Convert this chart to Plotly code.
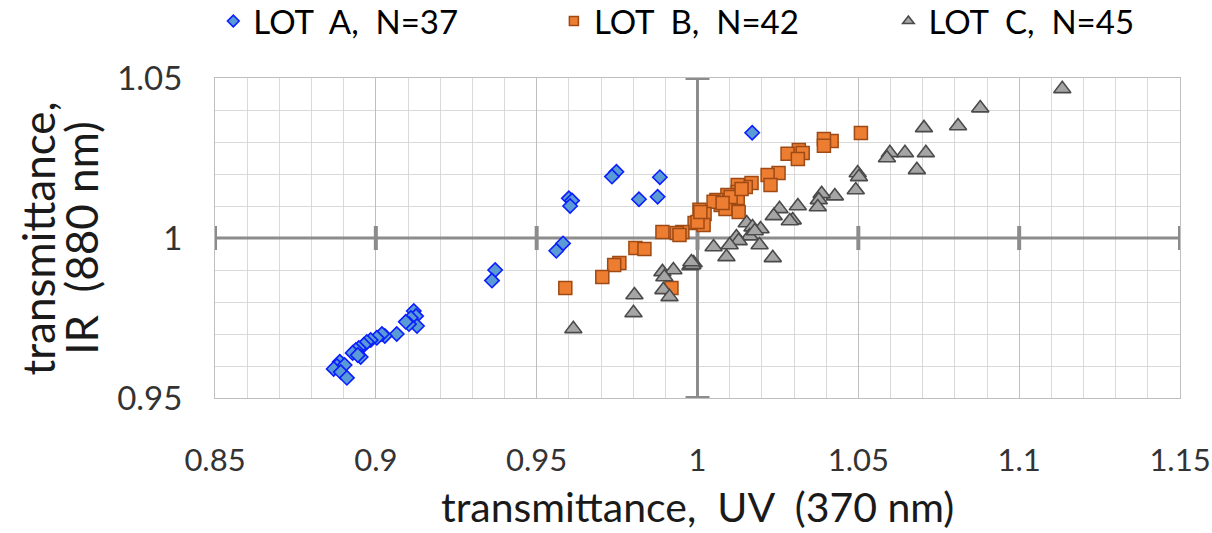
import plotly.graph_objects as go

# ---------------- data ----------------
lot_a_x = [1.0170, 0.9748, 0.9734, 0.9883, 0.9600, 0.9610, 0.9604, 0.9818, 0.9876,
           0.9582, 0.9561, 0.9371, 0.9361,
           0.9118, 0.9125, 0.9109, 0.9128, 0.9103, 0.9093, 0.9065, 0.9028, 0.9019,
           0.9003, 0.8984, 0.8972, 0.8963, 0.8947, 0.8938, 0.8928, 0.8953, 0.8944,
           0.8888, 0.8879, 0.8869, 0.8903, 0.8891, 0.8910]
lot_a_y = [1.0329, 1.0207, 1.0192, 1.0190, 1.0124, 1.0117, 1.0100, 1.0121, 1.0129,
           0.9983, 0.9960, 0.9900, 0.9867,
           0.9772, 0.9756, 0.9750, 0.9725, 0.9731, 0.9738, 0.9700, 0.9694, 0.9700,
           0.9688, 0.9681, 0.9675, 0.9666, 0.9656, 0.9650, 0.9641, 0.9628, 0.9634,
           0.9613, 0.9600, 0.9591, 0.9603, 0.9581, 0.9563]

lot_b_x = [1.0508, 1.0417, 1.0393, 1.0393, 1.0315, 1.0327, 1.0280, 1.0312, 1.0252,
           1.0218, 1.0227, 1.0168, 1.0150, 1.0125, 1.0125, 1.0125, 1.0093, 1.0059,
           1.0072, 1.0087, 1.0128, 1.0050, 1.0006, 1.0022, 0.9991, 1.0019, 0.9953,
           0.9891, 0.9935, 0.9944, 0.9807, 0.9835, 0.9757, 0.9741, 0.9704, 0.9589,
           0.9919, 1.0103, 1.0137, 1.0000, 1.0009, 1.0078]
lot_b_y = [1.0328, 1.0303, 1.0309, 1.0288, 1.0275, 1.0266, 1.0263, 1.0247, 1.0203,
           1.0197, 1.0166, 1.0172, 1.0159, 1.0166, 1.0144, 1.0125, 1.0134, 1.0119,
           1.0103, 1.0091, 1.0081, 1.0113, 1.0088, 1.0075, 1.0047, 1.0041, 1.0019,
           1.0019, 1.0016, 1.0009, 0.9969, 0.9966, 0.9922, 0.9916, 0.9878, 0.9844,
           0.9844, 1.0128, 1.0153, 1.0050, 1.0081, 1.0109]

lot_c_x = [1.1134, 1.0879, 1.0810, 1.0704, 1.0710, 1.0645, 1.0598, 1.0589, 1.0682,
           1.0498, 1.0502, 1.0492, 1.0427, 1.0386, 1.0377, 1.0374, 1.0312, 1.0296,
           1.0255, 1.0237, 1.0287, 1.0153, 1.0171, 1.0196, 1.0162, 1.0121, 1.0128,
           1.0100, 1.0050, 1.0090, 1.0193, 1.0234, 0.9988, 0.9978, 0.9891, 0.9925,
           0.9897, 0.9894, 0.9913, 0.9804, 0.9801, 0.9614, 0.9984, 1.0178, 0.9981]
lot_c_y = [1.0466, 1.0406, 1.0350, 1.0344, 1.0266, 1.0266, 1.0266, 1.0250, 1.0213,
           1.0203, 1.0191, 1.0150, 1.0131, 1.0138, 1.0119, 1.0097, 1.0100, 1.0056,
           1.0091, 1.0069, 1.0053, 1.0047, 1.0034, 1.0028, 1.0006, 1.0003, 0.9991,
           0.9978, 0.9972, 0.9941, 0.9978, 0.9938, 0.9922, 0.9913, 0.9894, 0.9900,
           0.9878, 0.9838, 0.9816, 0.9822, 0.9766, 0.9716, 0.9916, 1.0022, 0.9925]

lot_names = ["LOT\u00a0 A,\u00a0 N=37", "LOT\u00a0 B,\u00a0 N=42", "LOT\u00a0 C,\u00a0 N=45"]
x_ticks = [0.85, 0.9, 0.95, 1.0, 1.05, 1.1, 1.15]
y_ticks = [0.95, 1.0, 1.05]
x_title = "transmittance,\u00a0 UV\u00a0 (370 nm)"
y_title_lines = ["transmittance,", "IR\u00a0 (880 nm)"]

FONT = "Lato, Calibri, Carlito, sans-serif"

styles = [
    dict(symbol="diamond", size=11, color="#5B9BD5", line=dict(color="#0A1EFF", width=1.6)),
    dict(symbol="square", size=13, color="#ED7D31", line=dict(color="#9E4A14", width=1.5)),
    dict(symbol="triangle-up", size=15, color="#A5A5A5", line=dict(color="#4A4A4A", width=1.6)),
]
legend_sizes = [9, 9, 10]
legend_ids = ["legend", "legend2", "legend3"]
legend_x = [0.176, 0.457, 0.733]   # container fractions

fig = go.Figure()
for xs, ys, name, st, ls, lid in zip([lot_a_x, lot_b_x, lot_c_x], [lot_a_y, lot_b_y, lot_c_y],
                                     lot_names, styles, legend_sizes, legend_ids):
    fig.add_trace(go.Scatter(x=xs, y=ys, mode="markers", name=name, marker=st,
                             showlegend=False, legendgroup=name))
    lst = dict(st)
    lst["size"] = ls
    fig.add_trace(go.Scatter(x=[None], y=[None], mode="markers", name=name, marker=lst,
                             showlegend=True, legendgroup=name, legend=lid))

# crosshair axis lines at x=1 and y=1 (Excel-style crossing axes)
axis_col = "#8C8C8C"
fig.add_shape(type="line", xref="x", yref="y", x0=1, x1=1, y0=y_ticks[0], y1=y_ticks[-1],
              line=dict(color=axis_col, width=3), layer="between")
fig.add_shape(type="line", xref="x", yref="y", x0=x_ticks[0], x1=x_ticks[-1], y0=1, y1=1,
              line=dict(color=axis_col, width=3), layer="between")
for xv in x_ticks:
    fig.add_shape(type="line", xref="x", yref="y", ysizemode="pixel", yanchor=1,
                  x0=xv, x1=xv, y0=-12, y1=12, line=dict(color=axis_col, width=4), layer="between")
for yv in [y_ticks[0], y_ticks[-1]]:
    fig.add_shape(type="line", xref="x", yref="y", xsizemode="pixel", xanchor=1,
                  y0=yv, y1=yv, x0=-12, x1=12, line=dict(color=axis_col, width=4), layer="between")

# y-axis title as two rotated lines
title_x = [-0.183, -0.139]
for txt, tx in zip(y_title_lines, title_x):
    fig.add_annotation(text=txt, xref="paper", yref="paper", x=tx, y=0.5,
                       xanchor="center", yanchor="middle", textangle=-90, showarrow=False,
                       font=dict(size=44, family=FONT, color="#1a1a1a"))

# x-axis title
fig.add_annotation(text=x_title, xref="paper", yref="paper", x=0.5, y=-0.42,
                   xanchor="center", yanchor="bottom", showarrow=False, borderpad=0,
                   font=dict(size=41, family=FONT, color="#1a1a1a"))

legend_common = dict(orientation="h", xref="container", yref="paper", y=1.178,
                     xanchor="left", yanchor="middle", itemwidth=30,
                     font=dict(size=33, family=FONT, color="#000000"),
                     bgcolor="rgba(0,0,0,0)")
layout_legends = {lid: dict(legend_common, x=lx) for lid, lx in zip(legend_ids, legend_x)}

fig.update_layout(
    width=1212, height=533,
    margin=dict(l=215, r=32, t=78, b=135, autoexpand=False),
    paper_bgcolor="white", plot_bgcolor="white",
    font=dict(family=FONT, color="#1a1a1a"),
    **layout_legends,
    xaxis=dict(range=[x_ticks[0], x_ticks[-1]], tickvals=x_ticks, showgrid=True,
               gridcolor="#BFBFBF", gridwidth=1.3,
               minor=dict(dtick=0.01, showgrid=True, gridcolor="#D9D9D9", gridwidth=1),
               showline=True, linecolor="#BFBFBF", mirror=True, zeroline=False,
               ticks="", ticklabelstandoff=35, ticklabeloverflow="allow",
               tickfont=dict(size=31, family=FONT, color="#333333")),
    yaxis=dict(range=[y_ticks[0], y_ticks[-1]], tickvals=y_ticks, showgrid=True,
               gridcolor="#BFBFBF", gridwidth=1.3,
               minor=dict(dtick=0.01, showgrid=True, gridcolor="#D9D9D9", gridwidth=1),
               showline=True, linecolor="#BFBFBF", mirror=True, zeroline=False,
               ticks="", ticklabelstandoff=25, ticklabeloverflow="allow",
               tickfont=dict(size=33, family=FONT, color="#333333")),
)

fig.write_html("out.html")
